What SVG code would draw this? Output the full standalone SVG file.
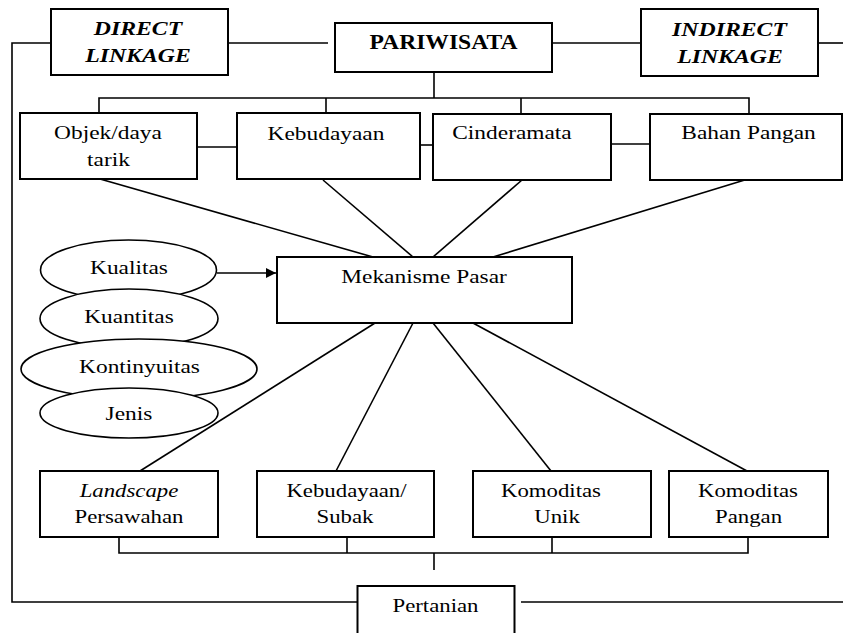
<svg xmlns="http://www.w3.org/2000/svg" width="843" height="633" viewBox="0 0 843 633">
<defs>
<style>
.box{fill:#fff;stroke:#000;stroke-width:2}
.ell{fill:#fff;stroke:#000;stroke-width:1.6}
.ln{fill:none;stroke:#000;stroke-width:1.6}
text{font-family:"Liberation Serif","Times New Roman",serif;font-size:18px;fill:#000;text-anchor:middle}
.bi{font-weight:bold;font-style:italic}
.b{font-weight:bold;font-size:20px}
.i{font-style:italic}
.lg{font-size:19px}
</style>
<marker id="arr" viewBox="0 0 10 10" refX="10" refY="5" markerWidth="13" markerHeight="10" markerUnits="userSpaceOnUse" orient="auto"><path d="M0,0 L10,5 L0,10 z" fill="#000"/></marker>
</defs>
<rect width="843" height="633" fill="#fff"/>
<g id="connectors">
<path class="ln" d="M50,43 H12 V602 H357"/>
<path class="ln" d="M521,602 H843"/>
<path class="ln" d="M228,43 H328"/>
<path class="ln" d="M543,43 H641"/>
<path class="ln" d="M818,43 H843"/>
<path class="ln" d="M434,65 V98"/>
<path class="ln" d="M99,113 V98 H749 V113"/>
<path class="ln" d="M326,98 V113"/>
<path class="ln" d="M521,98 V114"/>
<path class="ln" d="M197,147 H237"/>
<path class="ln" d="M420,145 H433"/>
<path class="ln" d="M611,144 H650"/>
<path class="ln" d="M100,179 L373,257"/>
<path class="ln" d="M323,180 L413,257"/>
<path class="ln" d="M522,180 L433,257"/>
<path class="ln" d="M748,179 L493,257"/>
<path class="ln" d="M375,323 L140,471"/>
<path class="ln" d="M413,323 L336,471"/>
<path class="ln" d="M433,323 L551,471"/>
<path class="ln" d="M473,323 L747,471"/>
<path class="ln" d="M119,537 V553 H748 V537"/>
<path class="ln" d="M347,537 V553"/>
<path class="ln" d="M552,537 V553"/>
<path class="ln" d="M434,553 V570"/>
<path class="ln" d="M217,273 H276" marker-end="url(#arr)"/>
</g>
<g id="direct">
<rect class="box" x="51" y="9" width="177" height="66"/>
<text class="bi" transform="translate(138,35) scale(1.32,1)">DIRECT</text>
<text class="bi" transform="translate(138,62) scale(1.32,1)">LINKAGE</text>
</g>
<g id="pariwisata">
<rect class="box" x="335" y="23" width="217" height="49"/>
<text class="b" transform="translate(443.5,49) scale(1.18,1)">PARIWISATA</text>
</g>
<g id="indirect">
<rect class="box" x="641" y="9" width="177" height="67"/>
<text class="bi" transform="translate(729.5,36) scale(1.32,1)">INDIRECT</text>
<text class="bi" transform="translate(730,63) scale(1.32,1)">LINKAGE</text>
</g>
<g id="objek">
<rect class="box" x="20" y="113" width="177" height="66"/>
<text transform="translate(108,139) scale(1.3,1)">Objek/daya</text>
<text transform="translate(108.5,166) scale(1.3,1)">tarik</text>
</g>
<g id="kebudayaan">
<rect class="box" x="237" y="113" width="183" height="66"/>
<text transform="translate(326,140) scale(1.3,1)">Kebudayaan</text>
</g>
<g id="cinderamata">
<rect class="box" x="433" y="114" width="178" height="66"/>
<text transform="translate(512,139) scale(1.3,1)">Cinderamata</text>
</g>
<g id="bahan">
<rect class="box" x="650" y="114" width="192" height="66"/>
<text transform="translate(748.5,139) scale(1.3,1)">Bahan Pangan</text>
</g>
<g id="kualitas">
<ellipse class="ell" cx="128.5" cy="270" rx="88" ry="30"/>
<text transform="translate(129,274) scale(1.3,1)">Kualitas</text>
</g>
<g id="kuantitas">
<ellipse class="ell" cx="129" cy="318.5" rx="89" ry="29.5"/>
<text transform="translate(129,323) scale(1.3,1)">Kuantitas</text>
</g>
<g id="kontinyuitas">
<ellipse class="ell" cx="139" cy="369" rx="118" ry="30"/>
<text transform="translate(139.5,373) scale(1.3,1)">Kontinyuitas</text>
</g>
<g id="jenis">
<ellipse class="ell" cx="129" cy="413" rx="89" ry="25"/>
<text transform="translate(129,420) scale(1.3,1)">Jenis</text>
</g>
<g id="mekanisme">
<rect class="box" x="277" y="257" width="295" height="66"/>
<text transform="translate(424,283) scale(1.3,1)">Mekanisme Pasar</text>
</g>
<g id="landscape">
<rect class="box" x="40" y="471" width="178" height="66"/>
<text class="i lg" transform="translate(129,497) scale(1.2,1)">Landscape</text>
<text class="lg" transform="translate(129,523) scale(1.2,1)">Persawahan</text>
</g>
<g id="subak">
<rect class="box" x="257" y="471" width="177" height="66"/>
<text class="lg" transform="translate(346.5,497) scale(1.2,1)">Kebudayaan/</text>
<text class="lg" transform="translate(345,523) scale(1.2,1)">Subak</text>
</g>
<g id="unik">
<rect class="box" x="473" y="471" width="178" height="66"/>
<text class="lg" transform="translate(551,497) scale(1.2,1)">Komoditas</text>
<text class="lg" transform="translate(557,523) scale(1.2,1)">Unik</text>
</g>
<g id="pangan">
<rect class="box" x="669" y="471" width="159" height="66"/>
<text class="lg" transform="translate(748,497) scale(1.2,1)">Komoditas</text>
<text class="lg" transform="translate(748.5,523) scale(1.2,1)">Pangan</text>
</g>
<g id="pertanian">
<path class="box" d="M357.5,634 V586 H514.5 V634"/>
<text class="lg" transform="translate(435.5,612) scale(1.2,1)">Pertanian</text>
</g>
</svg>
